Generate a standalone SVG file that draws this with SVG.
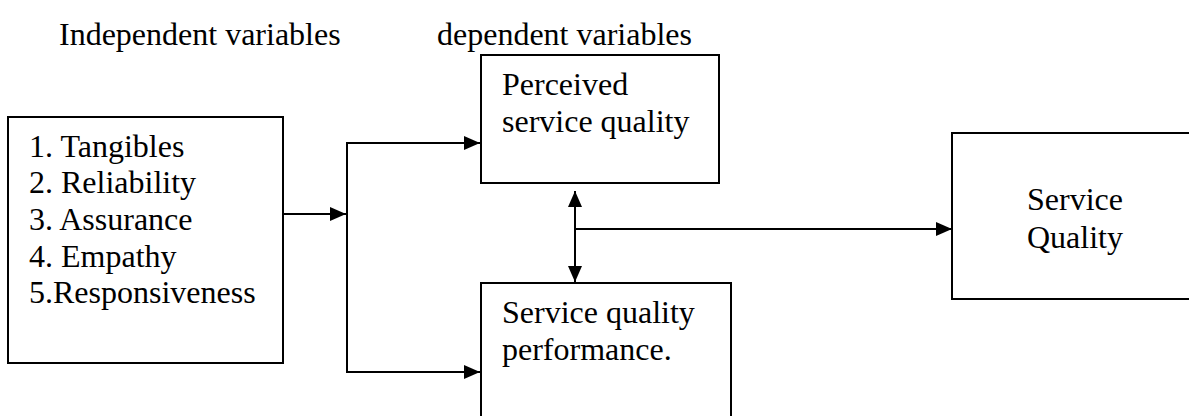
<svg xmlns="http://www.w3.org/2000/svg" width="1189" height="416" viewBox="0 0 1189 416">
<style>
text{font-family:"Liberation Serif","Times New Roman",serif;font-size:32px;fill:#000}
.box{fill:#fff;stroke:#000;stroke-width:2}
.ln{fill:none;stroke:#000;stroke-width:2}
</style>
<defs>
<marker id="ah" markerUnits="userSpaceOnUse" markerWidth="16" markerHeight="14" refX="16" refY="7" orient="auto-start-reverse">
<path d="M0,0 L16,7 L0,14 Z" fill="#000"/>
</marker>
</defs>
<rect width="1189" height="416" fill="#fff"/>
<text x="59" y="45">Independent variables</text>
<text x="437" y="45">dependent variables</text>
<g id="independent">
<rect class="box" x="8" y="117" width="275" height="246"/>
<text x="29" y="157">1. Tangibles</text>
<text x="29" y="193">2. Reliability</text>
<text x="29" y="230">3. Assurance</text>
<text x="29" y="267">4. Empathy</text>
<text x="29" y="303">5.Responsiveness</text>
</g>
<g id="perceived">
<rect class="box" x="481" y="55" width="238" height="128"/>
<text x="502" y="95">Perceived</text>
<text x="502" y="132">service quality</text>
</g>
<g id="performance">
<rect class="box" x="481" y="283" width="250" height="140"/>
<text x="502" y="323">Service quality</text>
<text x="502" y="360">performance.</text>
</g>
<g id="servicequality">
<rect class="box" x="952" y="133" width="250" height="166"/>
<text x="1027" y="210">Service</text>
<text x="1027" y="248">Quality</text>
</g>
<g id="connectors">
<line class="ln" x1="283" y1="214" x2="346" y2="214" marker-end="url(#ah)"/>
<line class="ln" x1="347" y1="143" x2="347" y2="372"/>
<line class="ln" x1="346" y1="143" x2="480" y2="143" marker-end="url(#ah)"/>
<line class="ln" x1="346" y1="372" x2="480" y2="372" marker-end="url(#ah)"/>
<line class="ln" x1="575" y1="191" x2="575" y2="282" marker-start="url(#ah)" marker-end="url(#ah)"/>
<line class="ln" x1="575" y1="229" x2="952" y2="229" marker-end="url(#ah)"/>
</g>
</svg>
